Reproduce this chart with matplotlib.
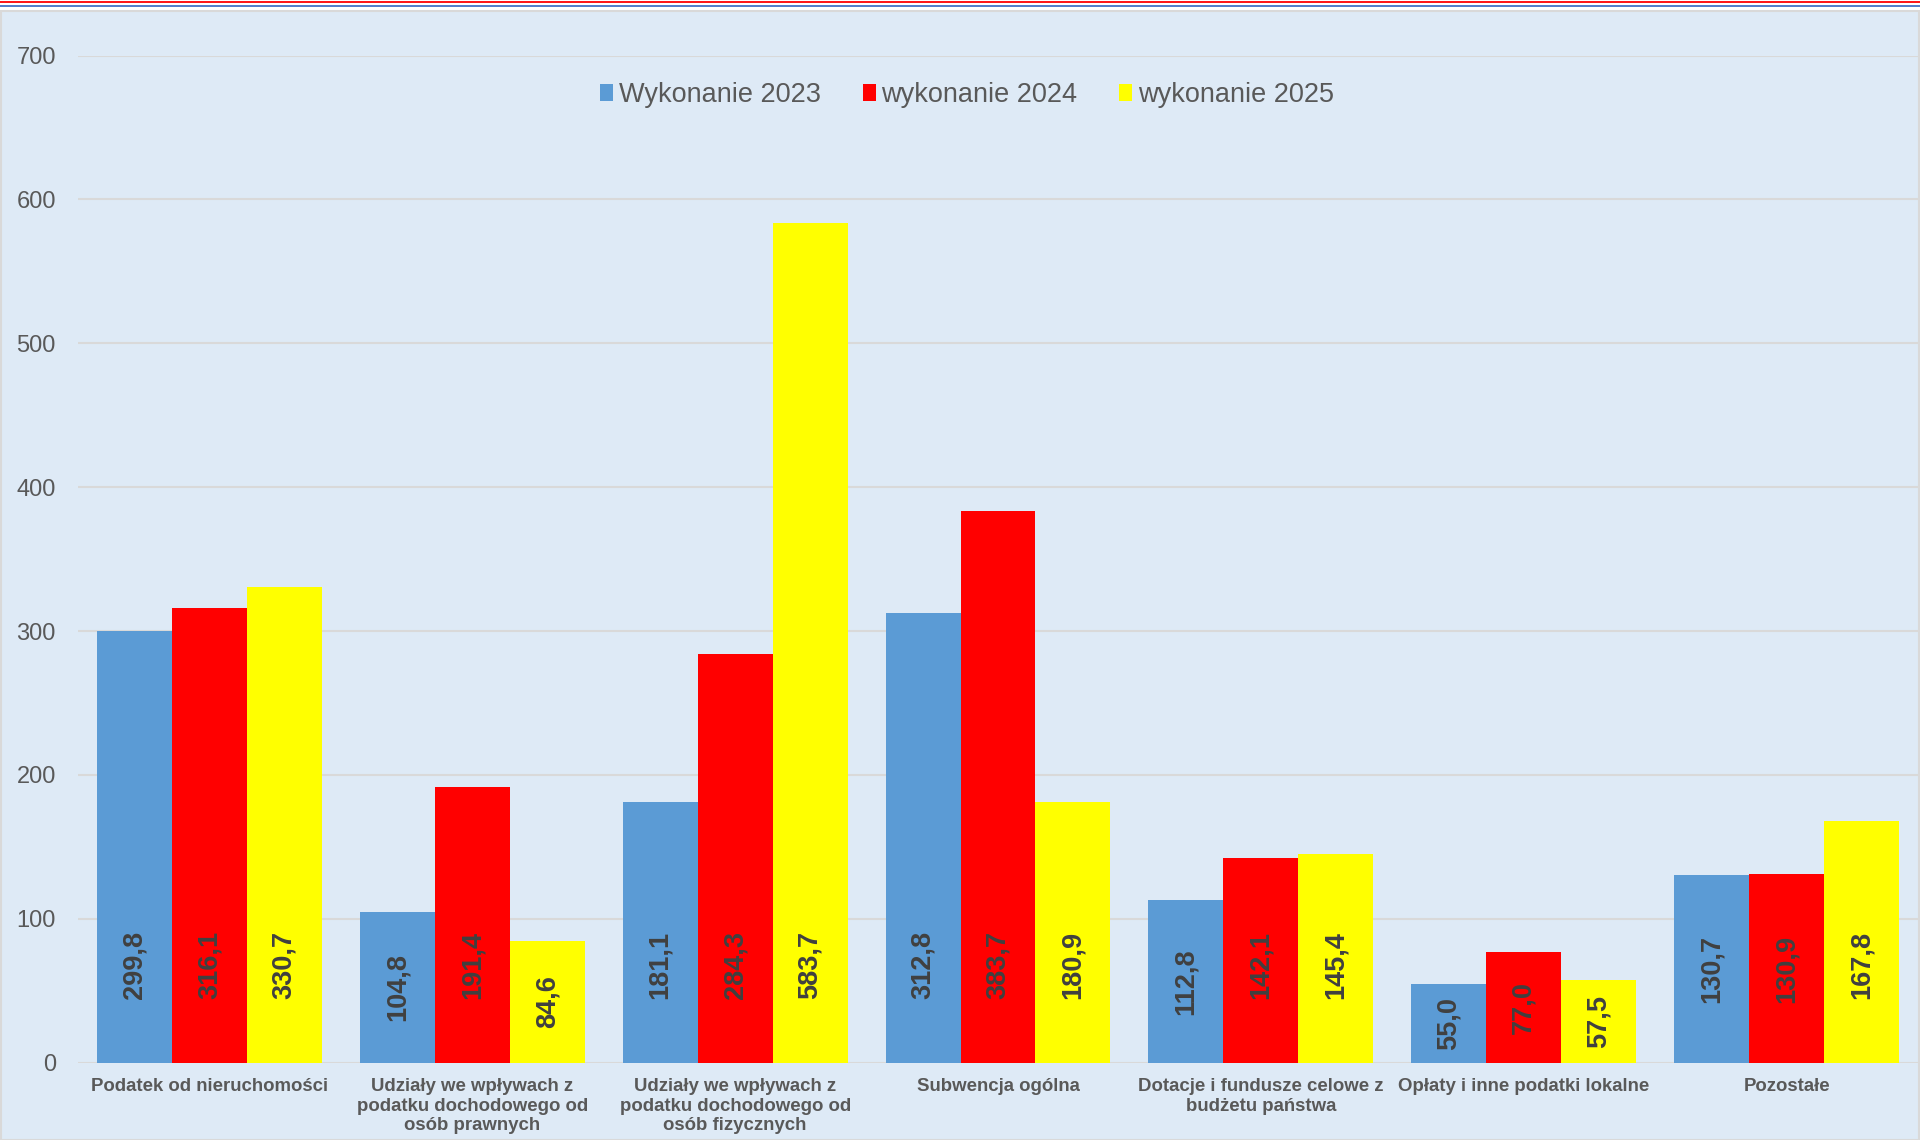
"""
Dochody budżetu - wykonanie 2023-2025 (grouped bar chart)
"""

import matplotlib
matplotlib.use('Agg')
import matplotlib.pyplot as plt
from matplotlib.patches import Rectangle
from matplotlib.lines import Line2D
import numpy as np

# data
categories = [
    'Podatek od nieruchomości',
    'Udziały we wpływach z\npodatku dochodowego od\nosób prawnych',
    'Udziały we wpływach z\npodatku dochodowego od\nosób fizycznych',
    'Subwencja ogólna',
    'Dotacje i fundusze celowe z\nbudżetu państwa',
    'Opłaty i inne podatki lokalne',
    'Pozostałe',
]
series_names = ['Wykonanie 2023', 'wykonanie 2024', 'wykonanie 2025']
w2023 = [299.8, 104.8, 181.1, 312.8, 112.8, 55.0, 130.7]
w2024 = [316.1, 191.4, 284.3, 383.7, 142.1, 77.0, 130.9]
w2025 = [330.7, 84.6, 583.7, 180.9, 145.4, 57.5, 167.8]
y_ticks = [0, 100, 200, 300, 400, 500, 600, 700]

colors = ['#5B9BD5', '#FF0000', '#FFFF00']
bg = '#DEEAF6'
grid_c = '#D9D9D9'
text_c = '#595959'
label_c = '#404040'

plt.rcParams['font.family'] = ['Liberation Sans', 'DejaVu Sans']

W, H = 1920, 1140
fig = plt.figure(figsize=(W / 100, H / 100), dpi=100, facecolor='white')

# decorative lines at the top and the chart area
fig.add_artist(Line2D([0, 1], [1 - 1.5 / H, 1 - 1.5 / H], color='#FF0000', lw=1.3,
                      transform=fig.transFigure))
fig.add_artist(Line2D([0, 1], [1 - 5.8 / H, 1 - 5.8 / H], color='#4472C4', lw=1.3,
                      transform=fig.transFigure))
fig.add_artist(Rectangle((0.5 / W, 0), 1 - 1.5 / W, 1 - 10.5 / H, transform=fig.transFigure,
                         facecolor=bg, edgecolor=grid_c, lw=1.5, zorder=0))

ax = fig.add_axes([78 / W, 1 - 1062.7 / H, 1840 / W, (1062.7 - 55.6) / H])
ax.set_facecolor('none')

x = np.arange(len(categories))
width = 0.285
for i, (vals, c) in enumerate(zip([w2023, w2024, w2025], colors)):
    pos = x + (i - 1) * width
    ax.bar(pos, vals, width, color=c, label=series_names[i], zorder=2)
    # value labels sit low in the bar, like the original
    for p, v in zip(pos, vals):
        ax.text(p, min(v / 2, 68), f'{v:.1f}'.replace('.', ','), rotation=90,
                ha='center', va='center', fontsize=19.5, fontweight='bold',
                color=label_c, zorder=3)

ax.set_xlim(-0.5, len(categories) - 0.5)
ax.set_ylim(0, 700)
ax.set_yticks(y_ticks)
ax.yaxis.grid(True, color=grid_c, lw=1.5, zorder=0)
ax.set_axisbelow(True)
for s in ax.spines.values():
    s.set_visible(False)
ax.tick_params(axis='y', length=0, pad=16, labelsize=17, labelcolor=text_c)
ax.tick_params(axis='x', length=0, pad=11)
ax.set_xticks(x)
ax.set_xticklabels(categories, fontsize=13.4, fontweight='bold', color=text_c,
                   linespacing=1.2)

leg = ax.legend(loc='center', bbox_to_anchor=(967 / W, 1 - 95 / H),
                bbox_transform=fig.transFigure, ncol=3, frameon=False,
                handlelength=0.48, handleheight=0.55, handletextpad=0.22,
                columnspacing=1.55, fontsize=19.5)
for t in leg.get_texts():
    t.set_color(text_c)

plt.savefig('out.png', dpi=100, facecolor='white')
plt.close()
